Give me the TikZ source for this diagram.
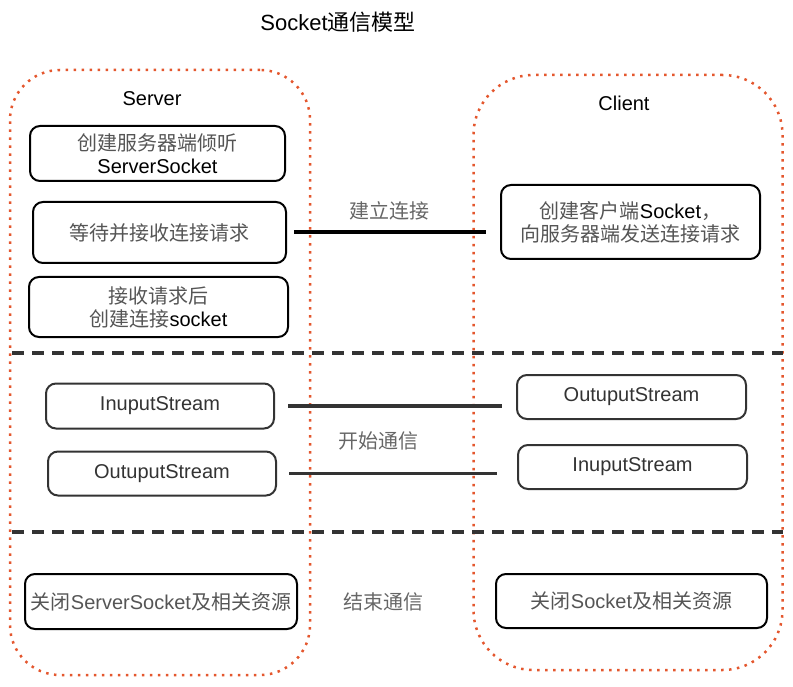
\documentclass[tikz,border=0pt]{standalone}
\usepackage{fontspec}
\setmainfont{Liberation Sans}
\newfontfamily\cjk{Noto Sans CJK SC}
\usetikzlibrary{positioning}
\definecolor{frameorange}{HTML}{E4572E}
\definecolor{sepgray}{HTML}{333333}
\definecolor{zhgray}{HTML}{555555}
\newcommand{\zh}[1]{{\cjk\color{zhgray}#1}}

\begin{document}
\begin{tikzpicture}[x=1pt,y=-1pt,
		every node/.style={
				font=\fontsize{20}{23}\selectfont,
				align=center, inner sep=0pt
			},
		side/.style={
				draw=frameorange, line width=2.5pt,
				dash pattern=on 2.5pt off 5.5pt
			},
		stepbox/.style={draw=black, line width=2pt, rounded corners=10pt},
		streambox/.style={draw=sepgray, line width=2pt, rounded corners=10pt, text=sepgray},
		link/.style={draw=black, line width=4pt},
		streamlink/.style={draw=sepgray, line width=3.5pt},
		separator/.style={draw=sepgray, line width=4pt, dash pattern=on 12pt off 8pt},
		midlabel/.style={font=\fontsize{20}{23}\selectfont\cjk, text=zhgray!90}
	]
	\useasboundingbox (0,0) rectangle (793,687);

	% i due lati: server e client
	\node[side, rounded corners=50pt, minimum width=300pt, minimum height=605pt] (server) at (160,372.5) {};
	\node[side, rounded corners=60pt, minimum width=309pt, minimum height=595pt] (client) at (628,372.5) {};

	\node[font=\fontsize{22}{26}\selectfont] (title) at (338,22) {Socket{\cjk 通信模型}};
	\node (srvname) at (152,99) {Server};
	\node (cliname) at (624,103) {Client};

	% fase di connessione
	\node[stepbox, minimum width=255pt, minimum height=55pt] (listen) at (157.5,153.5)
	{\zh{创建服务器端倾听}\\ServerSocket};
	\node[stepbox, minimum width=253pt, minimum height=61pt] (wait) at (159.5,232.5)
	{\zh{等待并接收连接请求}};
	\node[stepbox, minimum width=259pt, minimum height=60pt] (accept) at (158.5,307)
	{\zh{接收请求后}\\\zh{创建连接}socket};
	\node[stepbox, minimum width=259pt, minimum height=74pt] (request) at (630.5,222)
	{\zh{创建客户端}Socket\zh{，}\\\zh{向服务器端发送连接请求}};
	\draw[link, shorten <=7pt, shorten >=14pt] (wait.east) -- (wait.east -| request.west);
	\node[midlabel] (connlabel) at (389,211) {建立连接};

	\coordinate (sepA) at (12,353);
	\coordinate (sepB) at (783,353);
	\draw[separator] (sepA) -- (sepB);

	% fase di comunicazione
	\node[streambox, minimum width=228pt, minimum height=45pt] (srvin) at (160,406) {InuputStream};
	\node[streambox, minimum width=228pt, minimum height=44pt] (srvout) at (162,473.5) {OutuputStream};
	\node[streambox, minimum width=229pt, minimum height=44pt] (cliout) at (631.5,397) {OutuputStream};
	\node[streambox, minimum width=229pt, minimum height=44pt] (cliin) at (632.5,467) {InuputStream};
	\draw[streamlink, shorten <=13pt, shorten >=14pt] (srvin.east) -- (srvin.east -| cliout.west);
	\draw[streamlink, shorten <=12pt, shorten >=20pt] (srvout.east) -- (srvout.east -| cliin.west);
	\node[midlabel] (commlabel) at (378,441) {开始通信};

	\coordinate (sepC) at (12,532);
	\coordinate (sepD) at (783,532);
	\draw[separator] (sepC) -- (sepD);

	% chiusura
	\node[stepbox, minimum width=272pt, minimum height=55pt, text=zhgray] (srvclose) at (161,601.5)
	{\zh{关闭}ServerSocket\zh{及相关资源}};
	\node[stepbox, minimum width=271pt, minimum height=54pt, text=zhgray] (cliclose) at (631.5,601)
	{\zh{关闭}Socket\zh{及相关资源}};
	\node[midlabel] (endlabel) at (383,602) {结束通信};
\end{tikzpicture}
\end{document}
